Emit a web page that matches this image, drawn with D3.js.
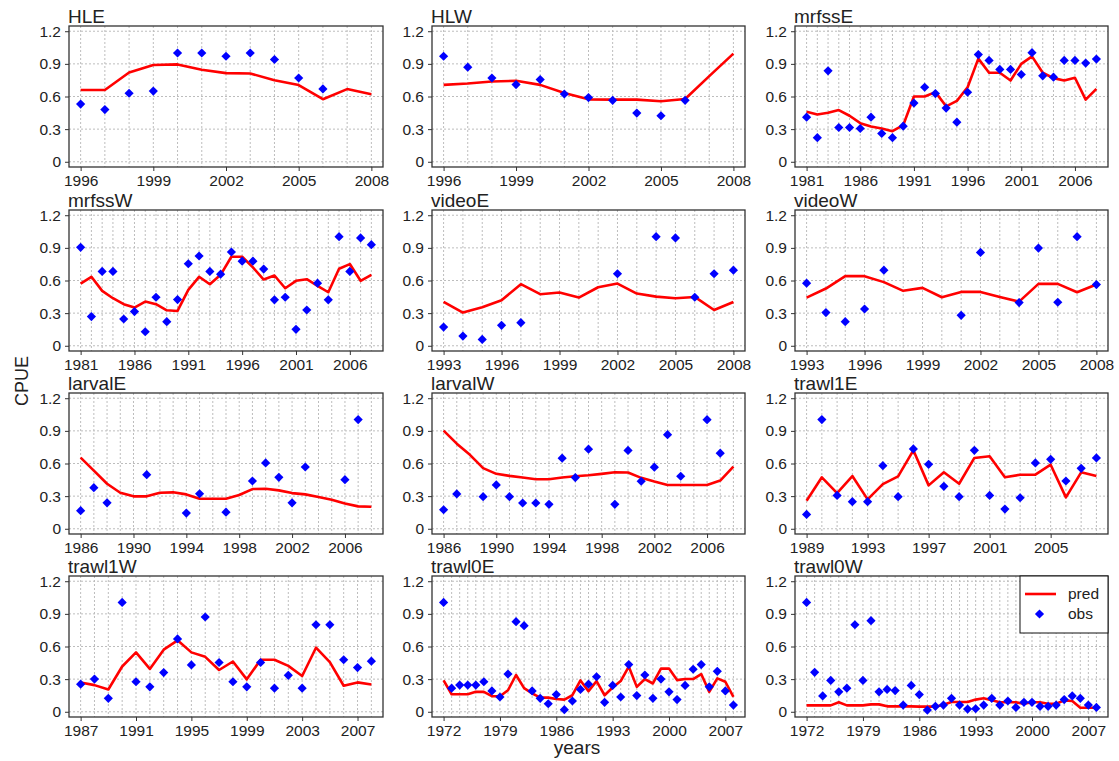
<!DOCTYPE html>
<html>
<head>
<meta charset="utf-8">
<script src="https://cdn.jsdelivr.net/npm/d3@7"></script>
<style>
  body { margin: 0; background: #fff; }
  svg { display: block; font-family: "Liberation Sans", Arial, sans-serif; }
</style>
</head>
<body>
<svg id="chart" width="1119" height="761"></svg>
<script>
// ---- data ----
const panelNames = ["HLE","HLW","mrfssE","mrfssW","videoE","videoW","larvalE","larvalW","trawl1E","trawl1W","trawl0E","trawl0W"];
const firstYears = [1996,1996,1981,1981,1993,1993,1986,1986,1989,1987,1972,1972];
const lastYears  = [2008,2008,2008,2008,2008,2008,2008,2008,2008,2008,2008,2008];
const tickStarts = [1996,1996,1981,1981,1993,1993,1986,1986,1989,1987,1972,1972];
const tickSteps  = [3,3,5,5,3,3,4,4,4,4,7,7];
const yTicks = [0, 0.3, 0.6, 0.9, 1.2];

const obsHLE  = [0.53,0.48,0.63,0.65,1.0,1.0,0.97,1.0,0.94,0.77,0.67,null,null];
const predHLE = [0.66,0.66,0.82,0.89,0.895,0.846,0.815,0.812,0.75,0.705,0.575,0.668,0.62];
const obsHLW  = [0.97,0.87,0.77,0.71,0.756,0.623,0.59,0.565,0.448,0.423,0.565,null,null];
const predHLW = [0.707,0.72,0.738,0.744,0.707,0.633,0.574,0.571,0.571,0.556,0.577,0.787,0.994];
const obsMrfssE  = [0.41,0.222,0.836,0.315,0.315,0.306,0.41,0.26,0.222,0.327,0.54,0.685,0.627,0.494,0.364,0.639,0.985,0.932,0.849,0.849,0.802,1.003,0.79,0.778,0.932,0.932,0.907,0.944];
const predMrfssE = [0.46,0.435,0.45,0.475,0.423,0.355,0.324,0.306,0.281,0.336,0.6,0.6,0.64,0.51,0.56,0.685,0.948,0.818,0.818,0.747,0.9,0.969,0.818,0.769,0.747,0.772,0.571,0.67];
const obsMrfssW  = [0.905,0.268,0.683,0.683,0.246,0.314,0.129,0.446,0.222,0.425,0.754,0.825,0.683,0.658,0.862,0.778,0.778,0.705,0.422,0.446,0.151,0.329,0.575,0.422,1.003,0.683,0.991,0.929];
const predMrfssW = [0.572,0.634,0.505,0.437,0.382,0.351,0.406,0.382,0.326,0.32,0.514,0.634,0.566,0.652,0.818,0.818,0.72,0.609,0.646,0.529,0.597,0.612,0.551,0.492,0.708,0.751,0.597,0.652];
const obsVideoE  = [0.172,0.089,0.058,0.188,0.212,null,null,null,null,0.662,null,1.003,0.991,0.446,0.662,0.695];
const predVideoE = [0.403,0.305,0.354,0.418,0.566,0.474,0.489,0.443,0.538,0.572,0.48,0.452,0.437,0.449,0.329,0.403];
const obsVideoW  = [0.575,0.305,0.222,0.338,0.695,null,null,null,0.28,0.858,null,0.397,0.898,0.4,1.003,0.563];
const predVideoW = [0.443,0.526,0.64,0.64,0.585,0.505,0.532,0.446,0.495,0.495,0.449,0.406,0.569,0.569,0.492,0.563];
const obsLarvalE  = [0.166,0.378,0.239,null,null,0.497,null,null,0.144,0.322,null,0.153,null,0.439,0.605,0.473,0.239,0.568,null,null,0.451,1.004,null];
const predLarvalE = [0.654,0.534,0.414,0.331,0.298,0.298,0.331,0.335,0.316,0.276,0.276,0.276,0.31,0.365,0.368,0.353,0.328,0.316,0.292,0.267,0.233,0.206,0.203];
const obsLarvalW  = [0.175,0.32,null,0.295,0.403,0.295,0.237,0.237,0.225,0.649,0.471,0.732,null,0.225,0.72,0.437,0.566,0.865,0.483,null,1.003,0.695,null];
const predLarvalW = [0.902,0.782,0.68,0.557,0.505,0.486,0.471,0.455,0.455,0.471,0.483,0.492,0.505,0.52,0.517,0.468,0.434,0.403,0.403,0.403,0.403,0.443,0.572];
const obsTrawl1E  = [0.132,1.004,0.307,0.249,0.249,0.58,0.295,0.734,0.592,0.39,0.295,0.721,0.307,0.181,0.285,0.605,0.638,0.439,0.556,0.651];
const predTrawl1E = [0.258,0.473,0.328,0.485,0.27,0.411,0.482,0.721,0.399,0.519,0.414,0.651,0.666,0.473,0.497,0.497,0.589,0.289,0.519,0.485];
const obsTrawl1W  = [0.254,0.301,0.124,1.005,0.276,0.229,0.36,0.67,0.431,0.871,0.453,0.276,0.229,0.453,0.217,0.335,0.217,0.8,0.8,0.478,0.406,0.465];
const predTrawl1W = [0.27,0.245,0.205,0.416,0.546,0.394,0.571,0.657,0.546,0.505,0.384,0.462,0.298,0.478,0.478,0.422,0.329,0.589,0.456,0.239,0.27,0.251];
const obsTrawl0E  = [1.005,0.217,0.245,0.245,0.245,0.276,0.192,0.136,0.347,0.828,0.791,0.192,0.124,0.074,0.158,0.019,0.099,0.205,0.254,0.322,0.087,0.242,0.136,0.434,0.149,0.338,0.124,0.301,0.183,0.112,0.242,0.391,0.434,0.229,0.372,0.192,0.062];
const predTrawl0E = [0.288,0.161,0.161,0.161,0.183,0.183,0.143,0.143,0.198,0.338,0.217,0.17,0.13,0.13,0.118,0.112,0.152,0.288,0.189,0.282,0.152,0.223,0.282,0.416,0.229,0.301,0.26,0.397,0.397,0.291,0.301,0.301,0.347,0.183,0.307,0.276,0.136];
const obsTrawl0W  = [1.005,0.363,0.146,0.288,0.183,0.217,0.8,0.288,0.837,0.183,0.205,0.195,0.062,0.242,0.158,0.016,0.05,0.062,0.124,0.062,0.025,0.028,0.062,0.124,0.062,0.099,0.04,0.087,0.087,0.05,0.05,0.062,0.112,0.146,0.124,0.062,0.04];
const predTrawl0W = [0.059,0.059,0.059,0.059,0.087,0.059,0.059,0.059,0.068,0.068,0.05,0.05,0.05,0.05,0.047,0.047,0.047,0.065,0.09,0.09,0.09,0.112,0.124,0.105,0.087,0.087,0.087,0.074,0.087,0.087,0.074,0.074,0.105,0.099,0.037,0.037,0.037];

const obsAll  = [obsHLE,obsHLW,obsMrfssE,obsMrfssW,obsVideoE,obsVideoW,obsLarvalE,obsLarvalW,obsTrawl1E,obsTrawl1W,obsTrawl0E,obsTrawl0W];
const predAll = [predHLE,predHLW,predMrfssE,predMrfssW,predVideoE,predVideoW,predLarvalE,predLarvalW,predTrawl1E,predTrawl1W,predTrawl0E,predTrawl0W];
const legendLabels = ["pred","obs"];

// ---- layout ----
const colLeft  = [69, 432, 795];
const colRight = [383, 745, 1108];
const rowTop   = [26, 210, 393, 576];
const panelH   = 141;
const RED = "#ff0000", BLUE = "#0000ff";

const svg = d3.select("#chart");

function diamond(x, y, r) {
  return `M${x},${y-r}L${x+r},${y}L${x},${y+r}L${x-r},${y}Z`;
}

panelNames.forEach((name, i) => {
  const c = i % 3, r = Math.floor(i / 3);
  const L = colLeft[c], R = colRight[c], T = rowTop[r], B = T + panelH;
  const y0 = firstYears[i], y1 = lastYears[i], span = y1 - y0;
  const x = d3.scaleLinear().domain([y0 - 0.04*span, y1 + 0.04*span]).range([L, R]);
  const y = d3.scaleLinear().domain([-0.048, 1.248]).range([B, T]);
  const g = svg.append("g");

  // grid
  const years = d3.range(y0, y1 + 1);
  g.selectAll(".vg").data(years).join("line")
    .attr("x1", d => x(d)).attr("x2", d => x(d)).attr("y1", T).attr("y2", B)
    .attr("stroke", "#bdbdbd").attr("stroke-width", 1).attr("stroke-dasharray", "2,2");
  g.selectAll(".hg").data(yTicks).join("line")
    .attr("x1", L).attr("x2", R).attr("y1", d => y(d)).attr("y2", d => y(d))
    .attr("stroke", "#bdbdbd").attr("stroke-width", 1).attr("stroke-dasharray", "2,2");

  // axes
  const xt = d3.range(tickStarts[i], y1 + 1, tickSteps[i]);
  const ax = g.append("g").attr("transform", `translate(0,${B})`)
    .call(d3.axisBottom(x).tickValues(xt).tickFormat(d3.format("d")).tickSize(4).tickPadding(4).tickSizeOuter(0));
  ax.select(".domain").remove();
  const ay = g.append("g").attr("transform", `translate(${L},0)`)
    .call(d3.axisLeft(y).tickValues(yTicks).tickFormat(d => d === 0 ? "0" : d3.format(".1f")(d)).tickSize(4).tickPadding(4).tickSizeOuter(0));
  ay.select(".domain").remove();
  [ax, ay].forEach(a => {
    a.selectAll("text").attr("font-size", 15.5).attr("fill", "#222").attr("font-family", "Liberation Sans, Arial, sans-serif");
    a.selectAll("line").attr("stroke", "#333");
  });

  // frame
  g.append("rect").attr("x", L).attr("y", T).attr("width", R - L).attr("height", B - T)
    .attr("fill", "none").attr("stroke", "#333").attr("stroke-width", 1.3);

  // pred line
  const pred = predAll[i].map((v, k) => [y0 + k, v]);
  g.append("path").datum(pred)
    .attr("d", d3.line().defined(d => d[1] != null).x(d => x(d[0])).y(d => y(d[1])))
    .attr("fill", "none").attr("stroke", RED).attr("stroke-width", 2.6).attr("stroke-linejoin", "round");

  // obs points
  const obs = obsAll[i].map((v, k) => [y0 + k, v]).filter(d => d[1] != null);
  g.selectAll(".pt").data(obs).join("path")
    .attr("d", d => diamond(x(d[0]), y(d[1]), 4.6)).attr("fill", BLUE);

  // title
  g.append("text").attr("x", L - 1).attr("y", T - 3).text(name)
    .attr("font-size", 19).attr("fill", "#222");

  // legend in last panel
  if (i === panelNames.length - 1) {
    const lg = g.append("g");
    lg.append("rect").attr("x", 1020).attr("y", T).attr("width", R - 1020).attr("height", 57)
      .attr("fill", "#fff").attr("stroke", "#111").attr("stroke-width", 1);
    lg.append("line").attr("x1", 1025).attr("x2", 1056).attr("y1", T + 18).attr("y2", T + 18)
      .attr("stroke", RED).attr("stroke-width", 2.6);
    lg.append("path").attr("d", diamond(1039.5, T + 38, 4.6)).attr("fill", BLUE);
    lg.selectAll(".lt").data(legendLabels).join("text")
      .attr("x", 1068).attr("y", (d, k) => T + 23 + k * 20).text(d => d)
      .attr("font-size", 15.5).attr("fill", "#222");
  }
});

// axis titles
svg.append("text").attr("transform", "translate(28,381) rotate(-90)")
  .attr("text-anchor", "middle").attr("font-size", 18).attr("fill", "#222").text("CPUE");
svg.append("text").attr("x", 577).attr("y", 754)
  .attr("text-anchor", "middle").attr("font-size", 19).attr("fill", "#222").text("years");
</script>
</body>
</html>
